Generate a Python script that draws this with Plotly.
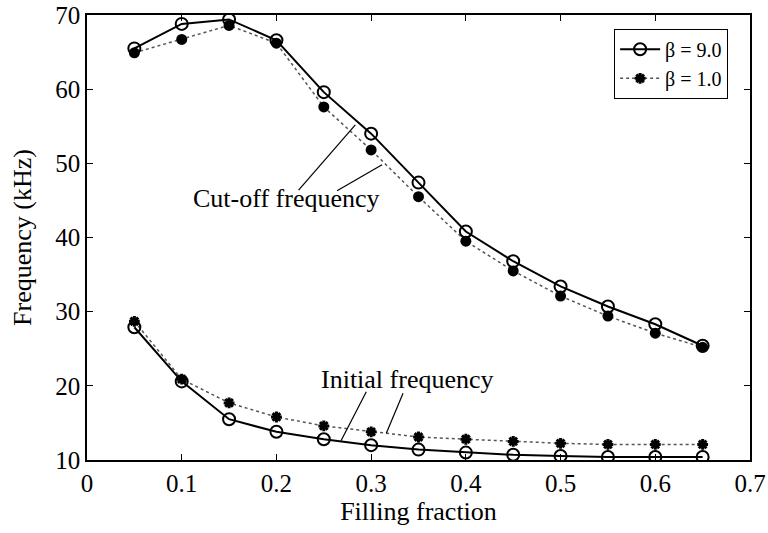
import plotly.graph_objects as go

filling = [0.05, 0.10, 0.15, 0.20, 0.25, 0.30, 0.35, 0.40, 0.45, 0.50, 0.55, 0.60, 0.65]

cutoff_b9 = [65.5, 68.8, 69.4, 66.6, 59.6, 54.0, 47.4, 40.8, 36.8, 33.4, 30.7, 28.3, 25.4]
cutoff_b1 = [64.9, 66.7, 68.6, 66.2, 57.6, 51.8, 45.5, 39.5, 35.5, 32.1, 29.4, 27.1, 25.2]
initial_b9 = [27.9, 20.6, 15.5, 13.8, 12.8, 12.0, 11.4, 11.0, 10.7, 10.55, 10.4, 10.4, 10.4]
initial_b1 = [28.7, 20.9, 17.7, 15.8, 14.6, 13.8, 13.1, 12.8, 12.5, 12.25, 12.1, 12.1, 12.1]

x_ticks = [0, 0.1, 0.2, 0.3, 0.4, 0.5, 0.6, 0.7]
x_ticktext = ["0", "0.1", "0.2", "0.3", "0.4", "0.5", "0.6", "0.7"]
y_ticks = [10, 20, 30, 40, 50, 60, 70]

FONT = "Liberation Serif, Times New Roman, serif"

fig = go.Figure()

solid = dict(color="black", width=2)
dotted = dict(color="#555555", width=1.5, dash="dot")
open_circle = dict(symbol="circle-open", size=12, color="black", line=dict(width=2, color="black"))
filled_circle = dict(symbol="circle", size=11, color="black", line=dict(width=0))
asterisk = dict(symbol="asterisk-open", size=9, color="black", line=dict(width=3, color="black"))

fig.add_trace(go.Scatter(x=filling, y=cutoff_b1, mode="lines+markers", line=dotted,
                         marker=filled_circle, showlegend=False))
fig.add_trace(go.Scatter(x=filling, y=initial_b1, mode="lines+markers", line=dotted,
                         marker=asterisk, showlegend=False))
fig.add_trace(go.Scatter(x=filling, y=cutoff_b9, mode="lines+markers", line=solid,
                         marker=open_circle, name="β = 9.0", legendrank=1))
fig.add_trace(go.Scatter(x=filling, y=initial_b9, mode="lines+markers", line=solid,
                         marker=open_circle, showlegend=False))
# legend entry for beta = 1.0
fig.add_trace(go.Scatter(x=[None], y=[None], mode="lines+markers", line=dotted,
                         marker=asterisk, name="β = 1.0", legendrank=2))

# annotation text and leader lines (data coordinates)
cut_label = dict(x=0.2105, y=45.2, text="Cut-off frequency")
init_label = dict(x=0.338, y=20.9, text="Initial frequency")
leaders = [
    (0.2234, 46.4, 0.2833, 55.2),
    (0.264, 46.3, 0.3115, 49.8),
    (0.2682, 12.6, 0.2949, 19.2),
    (0.316, 13.6, 0.3337, 19.0),
]

for lab in (cut_label, init_label):
    fig.add_annotation(x=lab["x"], y=lab["y"], text=lab["text"], showarrow=False,
                       font=dict(family=FONT, size=26, color="black"),
                       xanchor="center", yanchor="middle")
for (x0, y0, x1, y1) in leaders:
    fig.add_shape(type="line", x0=x0, y0=y0, x1=x1, y1=y1, xref="x", yref="y",
                  line=dict(color="black", width=1.2))

axis_common = dict(showline=True, linecolor="black", linewidth=1.5, mirror="ticks",
                   ticks="inside", ticklen=6, tickcolor="black", tickwidth=1.2,
                   showgrid=False, zeroline=False,
                   tickfont=dict(family=FONT, size=25, color="black"))

fig.update_xaxes(range=[0, 0.7], tickvals=x_ticks, ticktext=x_ticktext,
                 title=dict(text="Filling fraction", font=dict(family=FONT, size=26, color="black"),
                            standoff=6), **axis_common)
fig.update_yaxes(range=[10, 70], tickvals=y_ticks,
                 title=dict(text="Frequency (kHz)", font=dict(family=FONT, size=26, color="black"),
                            standoff=16), **axis_common)

fig.update_layout(
    width=768, height=533,
    margin=dict(l=87, r=18, t=15, b=73, autoexpand=False),
    paper_bgcolor="white", plot_bgcolor="white",
    font=dict(family=FONT, color="black"),
    legend=dict(x=0.967, y=0.969, xanchor="right", yanchor="top",
                bgcolor="white", bordercolor="black", borderwidth=1,
                font=dict(family=FONT, size=20, color="black"),
                itemwidth=40, tracegroupgap=0),
)

fig.write_html("out.html")
